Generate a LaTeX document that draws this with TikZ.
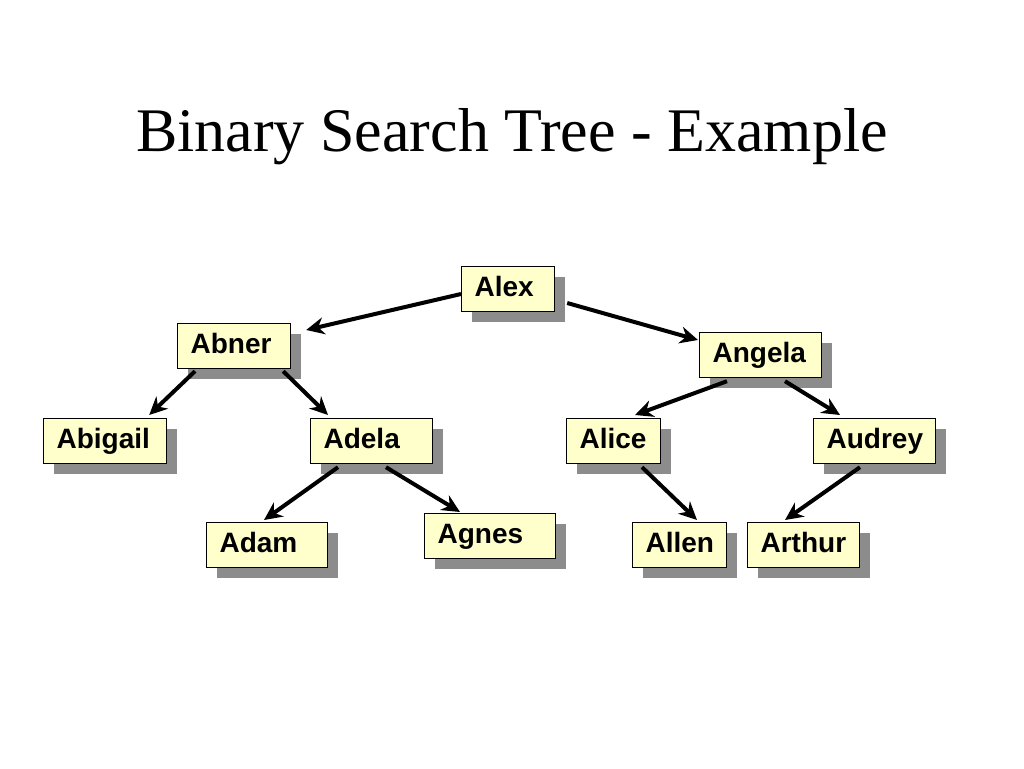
\documentclass[tikz,border=0pt]{standalone}
\usepackage{fontspec}
\setmainfont{Liberation Serif}
\newfontfamily\boxfont{Liberation Sans}
\usetikzlibrary{arrows.meta,calc,shadows}
\begin{document}
\begin{tikzpicture}[x=1pt,y=-1pt,
  bx/.style={draw=black,line width=1.2pt,fill={rgb,255:red,255;green,255;blue,204},
    font=\boxfont\bfseries\fontsize{28}{30}\selectfont,
    inner xsep=13pt,inner ysep=0pt,anchor=north west,align=left,
    text height=20pt,text depth=6pt,
    drop shadow={shadow xshift=10pt,shadow yshift=-10pt,fill=gray!90,opacity=1}},
  ar/.style={line width=4pt,-{Stealth[length=18pt,width=17pt]}}]
\useasboundingbox (0,0) rectangle (1024,768);
\node[font=\fontsize{62}{68}\selectfont] (title) at (512,137) {Binary Search Tree - Example};
\newcommand\bnode[5]{\node[bx,text width=#4-26,minimum height=45] (#1) at (#2,#3) {#5};}
\bnode{alex}{461}{266}{93}{Alex}
\bnode{abner}{177}{323}{113}{Abner}
\bnode{angela}{699}{332}{122}{Angela}
\bnode{abigail}{43}{418}{123}{Abigail}
\bnode{adela}{310}{418}{122}{Adela}
\bnode{alice}{566}{418}{94}{Alice}
\bnode{audrey}{813}{418}{122}{Audrey}
\bnode{adam}{206}{522}{121}{Adam}
\bnode{agnes}{424}{513}{131}{Agnes}
\bnode{allen}{632}{522}{94}{Allen}
\bnode{arthur}{747}{522}{112}{Arthur}
\draw[ar] ($(alex.north west)+(0,28)$) -- ($(abner.north east)+(15,7)$);
\draw[ar] ($(alex.north east)+(12,37)$) -- ($(angela.north west)+(-1,8)$);
\draw[ar] ($(abner.south west)+(18,2)$) -- ($(abigail.north east)+(-18,-3)$);
\draw[ar] ($(abner.south east)+(-8,2)$) -- ($(adela.north west)+(18,-3)$);
\draw[ar] ($(adela.south west)+(28,3)$) -- ($(adam.north west)+(58,-2)$);
\draw[ar] ($(adela.south west)+(76,3)$) -- ($(agnes.north west)+(36,-1)$);
\draw[ar] ($(angela.south west)+(28,3)$) -- ($(alice.north west)+(69,-3)$);
\draw[ar] ($(angela.south west)+(86,3)$) -- ($(audrey.north west)+(27,-3)$);
\draw[ar] ($(alice.south west)+(76,3)$) -- ($(allen.north west)+(65,-2)$);
\draw[ar] ($(audrey.south west)+(47,3)$) -- ($(arthur.north west)+(38,-2)$);
\end{tikzpicture}
\end{document}
